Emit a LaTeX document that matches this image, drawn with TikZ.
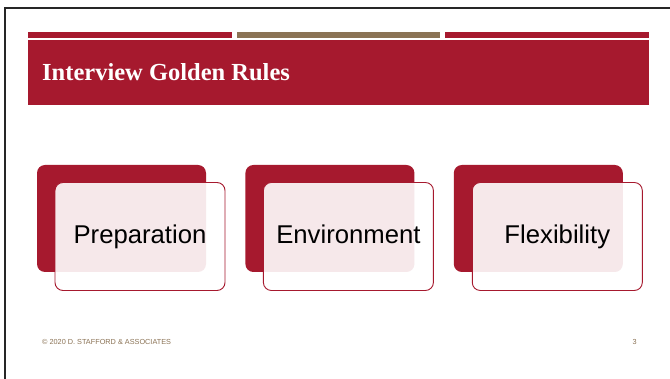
\documentclass[tikz,border=0pt]{standalone}
\usepackage{fontspec}
\setmainfont{Liberation Serif}
\newfontfamily\cardfont{Liberation Sans}
\usetikzlibrary{positioning}
\definecolor{slidered}{HTML}{A6192E}
\definecolor{slidetan}{HTML}{8B7355}

\begin{document}
\begin{tikzpicture}[x=1pt, y=-1pt,
    backcard/.style={rectangle, fill=slidered, rounded corners=8pt, minimum width=169pt, minimum height=107pt, inner sep=0pt},
    frontcard/.style={rectangle, draw=slidered, fill=white, fill opacity=0.9, text opacity=1, rounded corners=8pt, minimum width=170pt, minimum height=108pt, line width=0.9pt, font=\cardfont\fontsize{25.7}{30}\selectfont, text height=19pt, text depth=4pt, inner sep=0pt},
    bar/.style={fill=#1},
    foot/.style={font=\cardfont\fontsize{7.3}{9}\selectfont, text=slidetan, inner sep=0pt},
  ]
    \useasboundingbox (0,0) rectangle (670,379);
    \fill[white] (0,0) rectangle (670,379);
    % slide frame
    \draw[line width=2pt, black!85] (4.5,379) |- (670,8);

    % header
    \fill[bar=slidered] (28,32) rectangle (232,38);
    \fill[bar=slidetan] (237,32) rectangle (440,38);
    \fill[bar=slidered] (445,32) rectangle (649,38);
    \fill[bar=slidered] (28,40) rectangle (649,105);
    \node[anchor=base west, inner sep=0pt, text=white, font=\bfseries\fontsize{24.5}{28}\selectfont] (title) at (42,81) {Interview Golden Rules};

    % cards
    \node[backcard] (back1) at (121.5,218.5) {};
    \node[backcard, right=39pt of back1] (back2) {};
    \node[backcard, right=39pt of back2] (back3) {};
    \node[frontcard, xshift=18.5pt, yshift=-18pt] (prep) at (back1) {Preparation};
    \node[frontcard, xshift=18.5pt, yshift=-18pt] (env) at (back2) {Environment};
    \node[frontcard, xshift=19pt, yshift=-18pt] (flex) at (back3) {Flexibility};

    % footer
    \node[foot, anchor=west] (copy) at (42,342) {© 2020 D. STAFFORD \& ASSOCIATES};
    \node[foot, anchor=east] (page) at (637,342) {3};
  \end{tikzpicture}
\end{document}
